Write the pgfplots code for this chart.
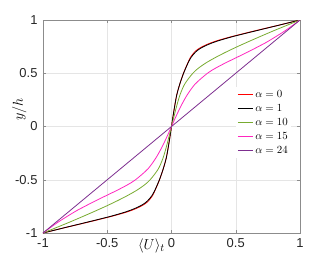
\documentclass[border=0pt]{standalone}
\usepackage{pgfplots}
\pgfplotsset{compat=1.18}
\usepackage{fontspec}
\setmainfont{Liberation Sans}
\definecolor{cgreen}{rgb}{0.47,0.67,0.19}
\definecolor{cmag}{rgb}{1,0.15,0.75}
\definecolor{cpurp}{rgb}{0.49,0.18,0.56}
\pgfplotstableread{
y U
-1 -1
-0.95 -0.83
-0.9 -0.655
-0.85 -0.487
-0.825 -0.41
-0.8 -0.34
-0.775 -0.285
-0.75 -0.24
-0.725 -0.205
-0.7 -0.18
-0.675 -0.163
-0.65 -0.148
-0.6 -0.128
-0.5 -0.093
-0.4 -0.065
-0.3 -0.0415
-0.2 -0.026
-0.1 -0.0125
0 0
0.1 0.0125
0.2 0.026
0.3 0.0415
0.4 0.065
0.5 0.093
0.6 0.128
0.65 0.148
0.675 0.163
0.7 0.18
0.725 0.205
0.75 0.24
0.775 0.285
0.8 0.34
0.825 0.41
0.85 0.487
0.9 0.655
0.95 0.83
1 1
}\redtab
\pgfplotstableread{
y U
-1 -1
-0.95 -0.832
-0.9 -0.662
-0.85 -0.495
-0.825 -0.42
-0.8 -0.352
-0.775 -0.296
-0.75 -0.25
-0.725 -0.214
-0.7 -0.188
-0.675 -0.169
-0.65 -0.153
-0.6 -0.13
-0.5 -0.094
-0.4 -0.065
-0.3 -0.0415
-0.2 -0.026
-0.1 -0.0125
0 0
0.1 0.0125
0.2 0.026
0.3 0.0415
0.4 0.065
0.5 0.094
0.6 0.13
0.65 0.153
0.675 0.169
0.7 0.188
0.725 0.214
0.75 0.25
0.775 0.296
0.8 0.352
0.825 0.42
0.85 0.495
0.9 0.662
0.95 0.832
1 1
}\blacktab
\pgfplotstableread{
y U
-1 -1
-0.95 -0.898
-0.9 -0.797
-0.85 -0.7
-0.8 -0.605
-0.75 -0.513
-0.7 -0.426
-0.65 -0.345
-0.6 -0.272
-0.55 -0.212
-0.5 -0.166
-0.4 -0.1035
-0.3 -0.067
-0.2 -0.042
-0.1 -0.0205
0 0
0.1 0.0205
0.2 0.042
0.3 0.067
0.4 0.1035
0.5 0.166
0.55 0.212
0.6 0.272
0.65 0.345
0.7 0.426
0.75 0.513
0.8 0.605
0.85 0.7
0.9 0.797
0.95 0.898
1 1
}\greentab
\pgfplotstableread{
y U
-1 -1
-0.9 -0.885
-0.8 -0.752
-0.75 -0.675
-0.7 -0.595
-0.65 -0.51
-0.6 -0.425
-0.55 -0.346
-0.5 -0.28
-0.4 -0.185
-0.3 -0.124
-0.2 -0.077
-0.1 -0.037
0 0
0.1 0.037
0.2 0.077
0.3 0.124
0.4 0.185
0.5 0.28
0.55 0.346
0.6 0.425
0.65 0.51
0.7 0.595
0.75 0.675
0.8 0.752
0.9 0.885
1 1
}\magtab
\pgfplotstableread{
y U
-1 -1
0 0
1 1
}\purptab
\begin{document}
\begin{tikzpicture}
\begin{axis}[
  scale only axis,
  width=257bp, height=213bp,
  xmin=-1, xmax=1, ymin=-1, ymax=1,
  xtick={-1,-0.5,0,0.5,1}, ytick={-1,-0.5,0,0.5,1},
  xticklabels={-1,-0.5,0,0.5,1}, yticklabels={-1,-0.5,0,0.5,1},
  tick label style={font=\fontsize{13}{15}\selectfont, text=black!85},
  /pgf/number format/assume math mode=true,
  grid=major,
  major grid style={draw=black!10, line width=0.4bp},
  axis line style={draw=black!45, line width=0.5bp},
  tick style={draw=black!45, line width=0.5bp},
  major tick length=3bp,
  tick align=inside,
  xticklabel style={yshift=-2bp},
  yticklabel style={xshift=-2bp},
  xlabel={$\langle U\rangle_t$},
  xlabel style={at={(axis description cs:0.422,0)}, anchor=north, yshift=-2bp, font=\fontsize{15}{17}\selectfont},
  ylabel={$y/h$},
  ylabel style={at={(axis description cs:0,0.58)}, anchor=south, yshift=13bp, font=\fontsize{15}{17}\selectfont},
  legend cell align=left,
  legend style={draw=none, fill=white, font=\fontsize{11}{13}\selectfont,
    at={(axis description cs:0.752,0.518)}, anchor=west, row sep=1.5bp,
    inner xsep=1bp, inner ysep=1bp},
  legend image code/.code={\draw[#1] (0bp,0bp) -- (15bp,0bp);},
  every axis plot/.append style={line width=0.8bp, smooth},
]
\addplot[red] table[x=U, y=y] {\redtab};
\addlegendentry{$\alpha=0$}
\addplot[black] table[x=U, y=y] {\blacktab};
\addlegendentry{$\alpha=1$}
\addplot[cgreen] table[x=U, y=y] {\greentab};
\addlegendentry{$\alpha=10$}
\addplot[cmag] table[x=U, y=y] {\magtab};
\addlegendentry{$\alpha=15$}
\addplot[cpurp] table[x=U, y=y] {\purptab};
\addlegendentry{$\alpha=24$}
\end{axis}
\pgfresetboundingbox
\useasboundingbox (-43bp,-30bp) rectangle (289bp,233bp);
\end{tikzpicture}
\end{document}
